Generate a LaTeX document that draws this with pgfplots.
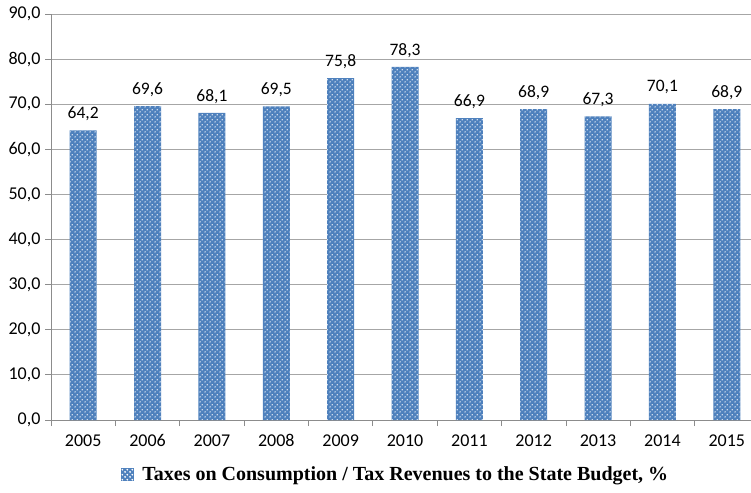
\documentclass[border=0pt]{standalone}
\usepackage{fontspec}
\setmainfont{Liberation Serif}
\newfontfamily\carlito{Carlito}
\usepackage{pgfplots}
\pgfplotsset{compat=1.18}
\usetikzlibrary{patterns.meta}

\definecolor{barblue}{HTML}{4F81BD}
\definecolor{gridgray}{HTML}{A6A6A6}
\definecolor{axisgray}{HTML}{8C8C8C}

\tikzdeclarepattern{
  name=wdots,
  type=uncolored,
  bounding box={(0pt,0pt) and (4.6pt,4.6pt)},
  tile size={(4.6pt,4.6pt)},
  code={
    \fill (1.15pt,1.15pt) circle (0.8pt);
    \fill (3.45pt,3.45pt) circle (0.8pt);
  }
}

\begin{document}
\begin{tikzpicture}
\begin{axis}[
    name=ax,
    scale only axis,
    width=708pt,
    height=406pt,
    xmin=-0.5, xmax=10.5,
    ymin=0, ymax=90,
    ytick={0,10,...,90},
    xtick={0,...,10},
    xticklabels={2005,2006,2007,2008,2009,2010,2011,2012,2013,2014,2015},
    minor xtick={-0.5,0.5,...,10.5},
    major x tick style={draw=none},
    minor x tick style={axisgray, thick},
    minor tick length=6pt,
    y tick style={axisgray, thick},
    major tick length=6pt,
    tick align=outside,
    axis lines*=left,
    axis line style={axisgray, thick, -},
    ymajorgrids,
    grid style={gridgray, thick},
    /pgf/number format/.cd, fixed, fixed zerofill, precision=1, use comma, assume math mode=true,
    /pgfplots/.cd,
    ticklabel style={font=\carlito\fontsize{18}{18}\selectfont},
    xticklabel style={yshift=-5pt},
    yticklabel style={xshift=-1pt},
    nodes near coords,
    nodes near coords style={font=\carlito\fontsize{17.5}{17.5}\selectfont, yshift=6pt,
      /pgf/number format/.cd, fixed, fixed zerofill, precision=1, use comma, assume math mode=true},
    legend style={at={(0.487,-0.105)}, anchor=north, draw=none, fill=none,
      font=\bfseries\fontsize{20}{20}\selectfont, legend cell align=left},
    legend image code/.code={
      \fill[barblue, postaction={pattern=wdots, pattern color=white}] (0pt,-6.5pt) rectangle (13pt,6.5pt);
      \path (19pt,0pt);
    },
]
\addplot[ybar, bar width=27pt, draw=none, fill=barblue,
  postaction={pattern=wdots, pattern color=white}] coordinates {
  (0,64.2) (1,69.6) (2,68.1) (3,69.5) (4,75.8) (5,78.3)
  (6,66.9) (7,68.9) (8,67.3) (9,70.1) (10,68.9)
};
\addlegendentry{Taxes on Consumption / Tax Revenues to the State Budget, \%}
\end{axis}
\pgfresetboundingbox
\path (ax.south west) ++(-51pt,-72pt) rectangle ++(751pt,492pt);
\end{tikzpicture}
\end{document}
